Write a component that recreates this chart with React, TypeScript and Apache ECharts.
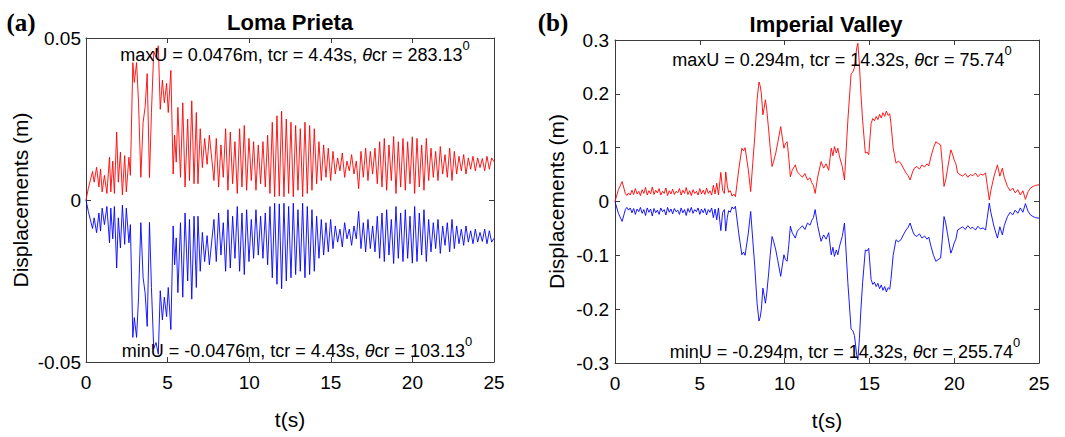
import React, { useEffect, useRef } from "react";
import * as echarts from "echarts";

const FONT = "'Liberation Sans', Arial, Helvetica, sans-serif";
const SERIF = "'Liberation Serif', 'Times New Roman', serif";

// ---------- Loma Prieta : maximum displacement envelope (m) ----------
// irregular samples read from the first seconds of the record [t (s), U (m)]
const lomaEarly: [number, number][] = [
  [0, 0], [0.14, 0.0035], [0.4, 0.0088], [0.5, 0.0055], [0.65, 0.0101],
  [0.79, 0.004], [0.89, 0.0096], [0.99, 0.0025], [1.13, 0.0076], [1.28, 0.002],
  [1.44, 0.0132], [1.52, 0.0025], [1.64, 0.012], [1.74, 0.002], [1.88, 0.021],
  [1.98, 0.0055], [2.11, 0.0148], [2.23, 0.0016], [2.37, 0.0137], [2.47, 0.0025],
  [2.63, 0.0132], [2.72, 0.0076], [2.87, 0.0424], [2.96, 0.0363], [3.1, 0.0424],
  [3.22, 0.03], [3.36, 0.007], [3.5, 0.024], [3.62, 0.0286], [3.75, 0.039],
  [3.89, 0.0069], [4.01, 0.027], [4.15, 0.0459], [4.29, 0.044], [4.43, 0.0476],
  [4.55, 0.028], [4.68, 0.037], [4.8, 0.03], [4.94, 0.036], [5.04, 0.027],
  [5.2, 0.04], [5.34, 0.008], [5.43, 0.02], [5.53, 0.0117], [5.63, 0.0286],
  [5.79, 0.007], [5.93, 0.03], [6.07, 0.004], [6.23, 0.025], [6.34, 0.006],
  [6.48, 0.0306], [6.62, 0.005], [6.76, 0.027], [6.86, 0.005], [7.0, 0.022],
  [7.13, 0.01], [7.27, 0.019], [7.42, 0.011], [7.56, 0.02],
];
// evenly sampled remainder (start 7.84 s, step 0.143 s), trough / peak readings
const lomaLateStart = 7.84;
const lomaLateStep = 0.143;
const lomaLateU = [
  0.006, 0.019, 0.004, 0.017, 0.007, 0.022, 0.003, 0.021, 0.005, 0.018,
  0.002, 0.022, 0.004, 0.023, 0.003, 0.019, 0.006, 0.018, 0.003, 0.017,
  0.005, 0.018, 0.004, 0.02, 0.002, 0.024, 0.001, 0.026, 0.0012, 0.0274,
  0.001, 0.025, 0.002, 0.024, 0.001, 0.023, 0.003, 0.022, 0.001, 0.024,
  0.002, 0.023, 0.003, 0.022, 0.005, 0.018, 0.006, 0.017, 0.007, 0.016,
  0.006, 0.015, 0.008, 0.013, 0.009, 0.0145, 0.007, 0.012, 0.009, 0.014,
  0.008, 0.012, 0.0035, 0.015, 0.007, 0.016, 0.006, 0.015, 0.008, 0.016,
  0.005, 0.018, 0.004, 0.019, 0.003, 0.017, 0.006, 0.0196, 0.002, 0.018,
  0.004, 0.019, 0.003, 0.018, 0.005, 0.0195, 0.002, 0.019, 0.004, 0.017,
  0.003, 0.019, 0.006, 0.016, 0.007, 0.015, 0.006, 0.0165, 0.008, 0.014,
  0.007, 0.016, 0.006, 0.015, 0.008, 0.0135, 0.009, 0.014, 0.008, 0.013,
  0.0095, 0.0135, 0.009, 0.013, 0.01, 0.0128, 0.009, 0.0135, 0.0095, 0.013, 0.0118,
];

// ---------- Imperial Valley : maximum displacement envelope [t (s), U (m)] ----------
const imperialMax: [number, number][] = [
  [0, 0], [0.2, 0.022], [0.42, 0.037], [0.61, 0.015], [0.7, 0.011],
  [0.8, 0.016], [0.9, 0.012], [1.0, 0.021], [1.1, 0.013], [1.2, 0.024], [1.3, 0.014],
  [1.4, 0.019], [1.5, 0.011], [1.6, 0.022], [1.7, 0.015], [1.8, 0.026], [1.9, 0.012],
  [2.0, 0.02], [2.1, 0.014], [2.2, 0.027], [2.3, 0.013], [2.4, 0.021], [2.5, 0.016],
  [2.6, 0.024], [2.7, 0.012], [2.8, 0.019], [2.9, 0.015], [3.0, 0.025], [3.1, 0.011],
  [3.2, 0.02], [3.3, 0.014], [3.4, 0.023], [3.5, 0.013], [3.6, 0.019], [3.7, 0.016],
  [3.8, 0.024], [3.9, 0.012], [4.0, 0.021], [4.1, 0.015], [4.2, 0.026], [4.3, 0.013],
  [4.4, 0.02], [4.5, 0.011], [4.6, 0.022], [4.7, 0.015], [4.8, 0.019], [4.9, 0.012],
  [5.0, 0.024], [5.1, 0.014], [5.2, 0.021], [5.3, 0.013], [5.4, 0.025], [5.5, 0.015],
  [5.6, 0.02], [5.7, 0.012], [5.8, 0.03], [5.9, 0.014], [6.0, 0.034], [6.1, 0.012],
  [6.24, 0.054], [6.35, 0.02], [6.45, 0.015], [6.53, 0.055], [6.62, 0.03], [6.7, 0.017],
  [6.8, 0.02], [6.9, 0.01], [7.0, 0.014], [7.1, 0.009],
  [7.3, 0.06], [7.48, 0.099], [7.58, 0.094], [7.67, 0.1], [7.86, 0.059], [8.0, 0.0185],
  [8.12, 0.07], [8.24, 0.12], [8.38, 0.19], [8.49, 0.222], [8.56, 0.215], [8.63, 0.2],
  [8.72, 0.161], [8.8, 0.175], [8.87, 0.189], [8.95, 0.17], [9.06, 0.133], [9.15, 0.1],
  [9.26, 0.065], [9.36, 0.075], [9.48, 0.09], [9.6, 0.11], [9.77, 0.139], [9.86, 0.12],
  [9.96, 0.099], [10.05, 0.108], [10.15, 0.111], [10.25, 0.08], [10.34, 0.046], [10.45, 0.058],
  [10.63, 0.068], [10.75, 0.055], [10.9, 0.05], [11.05, 0.045], [11.2, 0.052], [11.35, 0.04],
  [11.5, 0.044], [11.6, 0.035], [11.7, 0.03], [11.8, 0.015], [11.95, 0.045], [12.15, 0.074],
  [12.3, 0.062], [12.45, 0.07], [12.6, 0.058], [12.75, 0.099], [12.85, 0.085], [12.94, 0.102],
  [13.05, 0.09], [13.14, 0.099], [13.24, 0.083], [13.4, 0.065], [13.53, 0.04], [13.73, 0.151],
  [13.92, 0.237], [14.02, 0.24], [14.12, 0.249], [14.25, 0.285], [14.32, 0.294], [14.41, 0.255],
  [14.5, 0.2], [14.6, 0.151], [14.76, 0.09], [14.86, 0.092], [14.96, 0.087], [15.1, 0.145],
  [15.2, 0.154], [15.3, 0.15], [15.4, 0.158], [15.5, 0.152], [15.6, 0.162], [15.7, 0.155],
  [15.8, 0.165], [15.9, 0.158], [16.0, 0.168], [16.1, 0.16], [16.2, 0.163], [16.27, 0.145],
  [16.4, 0.1], [16.57, 0.071], [16.7, 0.075], [16.86, 0.071], [17.0, 0.062], [17.16, 0.053],
  [17.28, 0.048], [17.4, 0.04], [17.55, 0.055], [17.65, 0.062], [17.8, 0.065], [17.95, 0.06],
  [18.1, 0.068], [18.25, 0.064], [18.4, 0.07], [18.5, 0.066], [18.63, 0.083], [18.78, 0.1],
  [18.92, 0.111], [19.05, 0.108], [19.2, 0.105], [19.3, 0.07], [19.4, 0.028], [19.5, 0.04],
  [19.6, 0.059], [19.8, 0.096], [19.9, 0.088], [20.0, 0.077], [20.1, 0.07], [20.2, 0.053],
  [20.35, 0.05], [20.5, 0.047], [20.65, 0.052], [20.8, 0.045], [20.95, 0.05], [21.1, 0.048],
  [21.25, 0.053], [21.4, 0.046], [21.55, 0.051], [21.7, 0.049], [21.85, 0.053], [21.95, 0.03],
  [22.07, 0.003], [22.16, 0.02], [22.35, 0.047], [22.55, 0.068], [22.69, 0.047], [22.84, 0.062],
  [22.95, 0.045], [23.14, 0.028], [23.3, 0.02], [23.45, 0.025], [23.6, 0.016], [23.75, 0.022],
  [23.9, 0.012], [24.05, 0.02], [24.2, 0.004], [24.35, 0.018], [24.5, 0.025], [24.65, 0.028],
  [24.8, 0.03], [25.0, 0.031],
];

// axis ticks
const timeTicks = [0, 5, 10, 15, 20, 25];
const lomaTicks = [-0.05, 0, 0.05];
const imperialTicks = [-0.3, -0.2, -0.1, 0, 0.1, 0.2, 0.3];

// texts
const panelTitles = ["Loma Prieta", "Imperial Valley"];
const panelLetters = ["(a)", "(b)"];
const lomaNotes = [
  "maxU = 0.0476m, tcr = 4.43s, {th|θ}cr = 283.13{sup|0}",
  "minU = -0.0476m, tcr = 4.43s, {th|θ}cr = 103.13{sup|0}",
];
const imperialNotes = [
  "maxU = 0.294m, tcr = 14.32s, {th|θ}cr = 75.74{sup|0}",
  "minU = -0.294m, tcr = 14.32s, {th|θ}cr = 255.74{sup|0}",
];

// the minimum envelope is the mirror image (θcr + 180°) of the maximum envelope
const lomaMaxData: [number, number][] = [
  ...lomaEarly,
  ...lomaLateU.map((u, i) => [+(lomaLateStart + i * lomaLateStep).toFixed(3), u] as [number, number]),
];
const lomaMinData = lomaMaxData.map(([t, u]) => [t, -u]);
const imperialMinData = imperialMax.map(([t, u]) => [t, -u]);

const AXIS_COLOR = "#3a3a3a";

function xAxesFor(gridIndex: number) {
  const base = {
    type: "value",
    gridIndex,
    min: timeTicks[0],
    max: timeTicks[timeTicks.length - 1],
    interval: timeTicks[1] - timeTicks[0],
    splitLine: { show: false },
    axisLine: { show: true, onZero: false, lineStyle: { color: AXIS_COLOR, width: 1 } },
    axisTick: { show: true, inside: true, length: 5, lineStyle: { color: AXIS_COLOR, width: 1 } },
  };
  return [
    {
      ...base,
      position: "bottom",
      axisLabel: { show: true, color: "#000", fontSize: 19, fontFamily: FONT, margin: 11 },
      name: "t(s)",
      nameLocation: "middle",
      nameGap: 47,
      nameTextStyle: { color: "#000", fontSize: 21, fontFamily: FONT },
    },
    { ...base, position: "top", axisLabel: { show: false } },
  ];
}

function yAxesFor(gridIndex: number, ticks: number[], nameGap: number, margin: number) {
  const base = {
    type: "value",
    gridIndex,
    min: ticks[0],
    max: ticks[ticks.length - 1],
    interval: +(ticks[1] - ticks[0]).toFixed(6),
    splitLine: { show: false },
    axisLine: { show: true, onZero: false, lineStyle: { color: AXIS_COLOR, width: 1 } },
    axisTick: { show: true, inside: true, length: 5, lineStyle: { color: AXIS_COLOR, width: 1 } },
  };
  return [
    {
      ...base,
      position: "left",
      axisLabel: { show: true, color: "#000", fontSize: 19, fontFamily: FONT, margin },
      name: "Displacements (m)",
      nameLocation: "middle",
      nameGap,
      nameTextStyle: { color: "#000", fontSize: 21, fontFamily: FONT },
    },
    { ...base, position: "right", axisLabel: { show: false } },
  ];
}

function note(text: string, x: number, y: number) {
  return {
    type: "text",
    x,
    y,
    z: 100,
    silent: true,
    style: {
      text,
      fill: "#000",
      fontSize: 18,
      fontFamily: FONT,
      lineHeight: 32,
      align: "center",
      verticalAlign: "middle",
      rich: {
        th: { fontStyle: "italic", fontSize: 18, fontFamily: FONT, lineHeight: 32 },
        sup: { fontSize: 13, fontFamily: FONT, lineHeight: 10, verticalAlign: "top" },
      },
    },
  };
}

function label(text: string, x: number, y: number, fontSize: number, family: string) {
  return {
    type: "text",
    x,
    y,
    z: 100,
    silent: true,
    style: {
      text,
      fill: "#000",
      fontSize,
      fontWeight: "bold",
      fontFamily: family,
      align: "center",
      verticalAlign: "middle",
    },
  };
}

function lineSeries(data: number[][], color: string, axisIndex: number) {
  return {
    type: "line",
    xAxisIndex: axisIndex,
    yAxisIndex: axisIndex,
    data,
    showSymbol: false,
    symbol: "none",
    silent: true,
    clip: true,
    lineStyle: { color, width: 0.9 },
    itemStyle: { color },
  };
}

export default function App() {
  const ref = useRef<HTMLDivElement>(null);
  useEffect(() => {
    if (!ref.current) return;
    const chart = echarts.init(ref.current, null, { renderer: "svg" });
    const [xa0, xa1] = xAxesFor(0);
    const [xb0, xb1] = xAxesFor(1);
    const [ya0, ya1] = yAxesFor(0, lomaTicks, 55, 5);
    const [yb0, yb1] = yAxesFor(1, imperialTicks, 48, 6);
    chart.setOption({
      animation: false,
      backgroundColor: "#fff",
      grid: [
        { left: 86, top: 38, width: 408, height: 324, containLabel: false },
        { left: 615, top: 40, width: 424, height: 323, containLabel: false },
      ],
      xAxis: [xa0, xa1, xb0, xb1],
      yAxis: [ya0, ya1, yb0, yb1],
      series: [
        lineSeries(lomaMinData, "#0000ff", 0),
        lineSeries(lomaMaxData, "#ff0000", 0),
        lineSeries(imperialMinData, "#0000ff", 2),
        lineSeries(imperialMax, "#ff0000", 2),
      ],
      graphic: [
        label(panelLetters[0], 21, 22, 25, SERIF),
        label(panelLetters[1], 553, 22, 25, SERIF),
        label(panelTitles[0], 290, 22.5, 22, FONT),
        label(panelTitles[1], 826, 24, 22, FONT),
        note(lomaNotes[0], 295, 55),
        note(lomaNotes[1], 297, 350.5),
        note(imperialNotes[0], 842, 60),
        note(imperialNotes[1], 845, 351.5),
      ],
    });
    return () => chart.dispose();
  }, []);
  return (
    <div
      ref={ref}
      style={{ position: "fixed", left: 0, top: 0, width: 1065, height: 437, background: "#fff" }}
    />
  );
}
